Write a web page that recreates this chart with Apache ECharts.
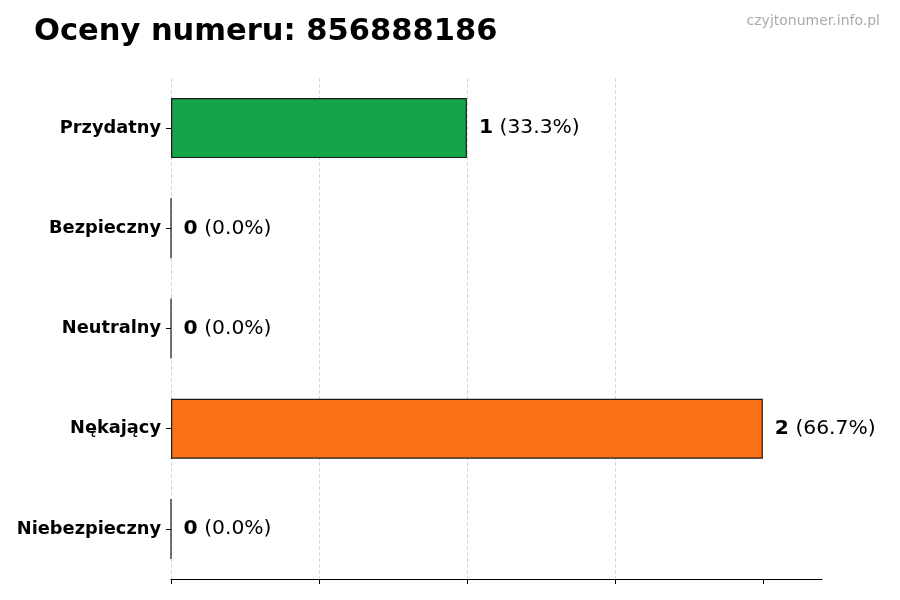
<!DOCTYPE html>
<html>
<head>
<meta charset="utf-8">
<script src="https://cdn.jsdelivr.net/npm/echarts@6/dist/echarts.min.js"></script>
</head>
<body style="margin:0">
<div id="main" style="width: 900px;height:600px;"></div>

<script type="text/javascript">
var categories = ['Przydatny', 'Bezpieczny', 'Neutralny', 'Nękający', 'Niebezpieczny'];
var counts = [1, 0, 0, 2, 0];
var colors = ['#16a34a', '#2563eb', '#9ca3af', '#f97316', '#dc2626'];
var xTicks = [0, 0.5, 1, 1.5, 2];
var total = counts.reduce(function (a, b) { return a + b; }, 0);

var font = 'DejaVu Sans';

var option = {
    animation: false,
    title: [{
        text: 'Oceny numeru: 856888186',
        left: 29,
        top: 12,
        textStyle: { fontFamily: font, fontSize: 30.5, fontWeight: 'bold', color: '#000' }
    }, {
        text: 'czyjtonumer.info.pl',
        right: 15,
        top: 9,
        textStyle: { fontFamily: font, fontSize: 14, fontWeight: 'normal', color: '#aaaaaa' }
    }],
    grid: { left: 171, right: 78, top: 78, bottom: 21 },
    xAxis: {
        type: 'value',
        min: 0,
        max: 2.2,
        interval: 0.5,
        axisLine: { show: true, lineStyle: { color: '#000', width: 1.2 } },
        axisTick: { show: true, length: 5, customValues: xTicks, lineStyle: { color: '#000' } },
        axisLabel: { show: false },
        splitLine: { show: true, showMaxLine: false, lineStyle: { type: 'dashed', color: '#d9d9d9' } }
    },
    yAxis: {
        type: 'category',
        inverse: true,
        data: categories,
        axisLine: { show: false },
        axisTick: { show: true, length: 5, alignWithLabel: true, lineStyle: { color: '#000' } },
        axisLabel: { fontFamily: font, fontSize: 17.8, fontWeight: 'bold', color: '#000', margin: 10, padding: [2, 0, 0, 0] }
    },
    series: [{
        type: 'bar',
        barWidth: 60,
        data: counts.map(function (v, i) {
            return { value: v, itemStyle: { color: colors[i] } };
        }),
        itemStyle: { borderColor: '#1a1a1a', borderWidth: 1.2 },
        label: {
            show: true,
            position: 'right',
            distance: 12,
            formatter: function (p) {
                var pct = total ? (p.value / total * 100).toFixed(1) : '0.0';
                return '{b|' + p.value + '}{n| (' + pct + '%)}';
            },
            rich: {
                b: { fontFamily: font, fontSize: 20.3, fontWeight: 'bold', color: '#000' },
                n: { fontFamily: font, fontSize: 20.3, color: '#000' }
            }
        }
    }]
};

var myChart = echarts.init(document.getElementById('main'));
myChart.setOption(option);
</script>
</body>
</html>
